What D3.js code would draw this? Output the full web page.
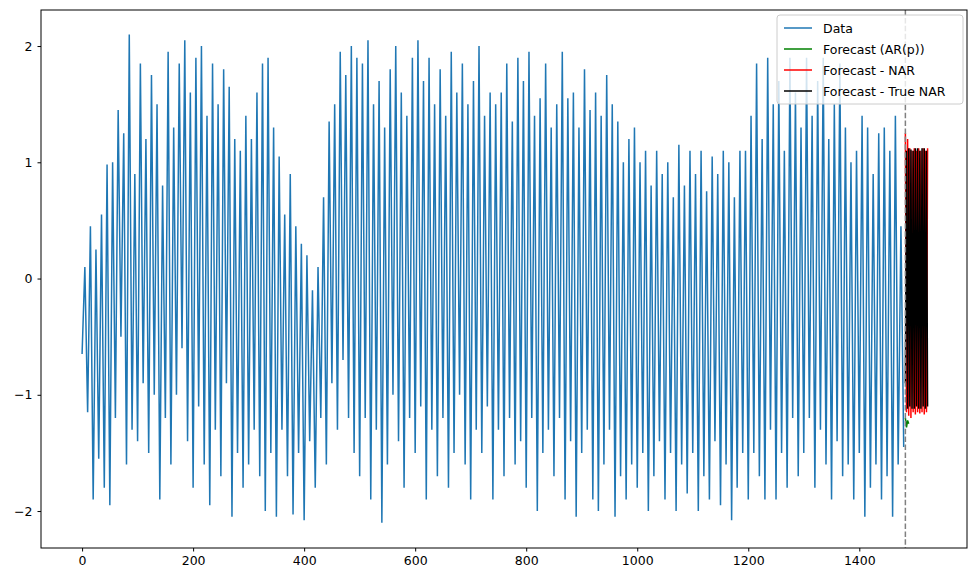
<!DOCTYPE html>
<html><head><meta charset="utf-8">
<script src="https://cdn.jsdelivr.net/npm/d3@7"></script>
<style>body{margin:0;background:#fff;font-family:"DejaVu Sans",sans-serif;overflow:hidden}</style>
</head><body>
<script>
var dataStep = 5;
var dataValues = [
 -0.65,0.1,-1.15,0.45,-1.9,0.25,-1.55,0.55,-1.8,0.98,
 -1.95,1.0,-1.2,1.45,-0.5,1.25,-1.6,2.1,-1.3,0.9,
 -1.4,1.85,-0.9,1.2,-1.5,1.75,-1.0,1.5,-1.9,0.8,
 -1.2,1.95,-1.6,1.3,-1.0,1.85,-0.6,2.05,-1.4,1.6,
 -1.8,1.9,-1.1,2.0,-1.6,1.4,-1.95,1.85,-1.3,1.5,
 -1.7,1.8,-0.9,1.65,-2.05,1.2,-1.5,1.1,-1.8,1.4,
 -1.6,1.2,-1.3,1.6,-1.7,1.85,-2.0,1.9,-1.5,1.3,
 -2.05,1.05,-1.3,0.55,-1.7,0.9,-2.03,0.45,-1.5,0.3,
 -2.08,0.2,-1.4,-0.1,-1.8,0.1,-1.2,0.7,-1.6,1.35,
 -0.9,1.5,-1.3,1.95,-0.7,1.75,-1.2,2.0,-1.5,1.9,
 -1.7,1.85,-1.2,2.05,-1.9,1.5,-1.3,1.7,-2.1,1.3,
 -1.6,1.8,-1.0,2.0,-1.4,1.6,-1.8,1.4,-1.2,1.9,
 -1.5,2.05,-1.1,1.7,-1.9,1.9,-1.3,1.5,-1.7,1.8,
 -1.2,1.4,-1.8,1.95,-1.5,1.6,-1.0,1.85,-1.6,1.5,
 -1.9,1.7,-1.3,2.0,-1.5,1.4,-1.1,1.6,-1.9,1.5,
 -1.3,1.6,-1.7,1.85,-1.2,1.35,-1.6,1.9,-1.4,1.7,
 -1.8,1.95,-1.2,1.4,-2.0,1.55,-1.5,1.85,-1.3,1.3,
 -1.7,1.5,-1.2,1.95,-1.9,1.55,-1.4,1.6,-2.05,1.3,
 -1.5,1.8,-1.3,1.45,-1.9,1.6,-2.0,1.4,-1.6,1.75,
 -1.3,1.5,-2.05,1.35,-1.7,1.0,-1.9,1.2,-1.6,1.3,
 -1.8,1.0,-1.5,1.1,-2.0,0.8,-1.7,1.1,-1.4,0.9,
 -1.9,1.0,-1.5,0.7,-2.0,1.15,-1.6,0.8,-1.85,1.1,
 -1.5,0.9,-2.0,1.1,-1.7,0.75,-1.9,1.05,-1.4,0.9,
 -1.95,1.1,-1.6,1.0,-2.08,0.7,-1.8,1.1,-1.5,1.1,
 -1.9,1.4,-1.5,1.85,-1.7,1.2,-1.9,1.9,-1.3,1.5,
 -1.9,1.7,-1.5,1.1,-1.8,1.9,-1.2,1.6,-1.7,1.3,
 -1.5,1.9,-1.2,1.4,-1.8,1.7,-1.3,1.9,-1.6,1.2,
 -1.9,1.5,-1.4,1.85,-1.7,1.3,-1.6,1.0,-1.9,1.1,
 -1.5,1.4,-2.05,1.3,-1.8,0.9,-1.6,1.25,-1.9,1.3,
 -1.7,1.1,-2.05,1.4,-1.6,0.45,-1.45
];
// forecasts, one value every 2 steps starting at 1483
var fcStart = 1483, fcStep = 2;
var arValues = [-1.2,-1.28,-1.22,-1.25];
var narValues = [1.25,-1.15,1.2,-1.18,1.12,-1.2,1.1,-1.15,1.12,-1.17,1.1,-1.15,1.12,-1.16,1.1,-1.15,1.12,-1.17,1.1,-1.15,1.12];
var trueValues = [-0.9,1.1,-1.12,1.12,-1.1,1.11,-1.12,1.1,-1.12,1.12,-1.1,1.12,-1.12,1.1,-1.12,1.12,-1.1,1.12,-1.12,1.1,-1.1];
var xTicks = [0,200,400,600,800,1000,1200,1400];
var yTicks = [-2,-1,0,1,2];
var legendLabels = ["Data","Forecast (AR(p))","Forecast - NAR","Forecast - True NAR"];
var legendColors = ["#1f77b4","green","red","black"];

var W = 980, H = 582, m = {l:41, r:13, t:10, b:34};
var svg = d3.select("body").append("svg").attr("width", W).attr("height", H).style("display", "block");
var x = d3.scaleLinear().domain([-74, 1594]).range([m.l, W - m.r]);
var y = d3.scaleLinear().domain([-2.318, 2.31]).range([H - m.b, m.t]);

var line = d3.line().x(d => x(d[0])).y(d => y(d[1]));
var series = dataValues.map((v, i) => [i * dataStep, v]);
var fc = arr => arr.map((v, i) => [fcStart + i * fcStep, v]);

svg.append("path").attr("d", line(series)).attr("fill", "none").attr("stroke", "#1f77b4").attr("stroke-width", 1.5);
svg.append("path").attr("d", line(fc(narValues))).attr("fill", "none").attr("stroke", "red").attr("stroke-width", 1.5);
svg.append("path").attr("d", line(fc(trueValues))).attr("fill", "none").attr("stroke", "black").attr("stroke-width", 1.5);
svg.append("path").attr("d", line(fc(arValues))).attr("fill", "none").attr("stroke", "green").attr("stroke-width", 1.5);
svg.append("line").attr("x1", x(fcStart)).attr("x2", x(fcStart)).attr("y1", m.t).attr("y2", H - m.b)
  .attr("stroke", "gray").attr("stroke-width", 1.5).attr("stroke-dasharray", "5.5,2.4");

svg.append("g").attr("transform", `translate(0,${H - m.b})`)
  .call(d3.axisBottom(x).tickValues(xTicks).tickSize(3.5).tickPadding(5).tickFormat(d3.format("d")))
  .call(g => g.select(".domain").remove());
svg.append("g").attr("transform", `translate(${m.l},0)`)
  .call(d3.axisLeft(y).tickValues(yTicks).tickSize(3.5).tickPadding(5).tickFormat(d => d < 0 ? "\u2212" + (-d) : d))
  .call(g => g.select(".domain").remove());
svg.selectAll(".tick text").attr("font-size", 12.5).attr("font-family", "DejaVu Sans").attr("fill", "#000");
svg.selectAll(".tick line").attr("stroke", "#000");
svg.append("rect").attr("x", m.l).attr("y", m.t).attr("width", W - m.l - m.r).attr("height", H - m.t - m.b)
  .attr("fill", "none").attr("stroke", "#000").attr("stroke-width", 1);

var lg = svg.append("g").attr("transform", "translate(777,15)");
lg.append("rect").attr("width", 186).attr("height", 89).attr("rx", 3)
  .attr("fill", "#fff").attr("fill-opacity", 0.8).attr("stroke", "#ccc");
legendLabels.forEach(function(t, i) {
  var yy = 13 + i * 21;
  lg.append("line").attr("x1", 7).attr("x2", 35).attr("y1", yy).attr("y2", yy)
    .attr("stroke", legendColors[i]).attr("stroke-width", 1.5);
  lg.append("text").attr("x", 46).attr("y", yy + 4.5).attr("font-size", 12.5).text(t);
});
</script>
</body></html>
